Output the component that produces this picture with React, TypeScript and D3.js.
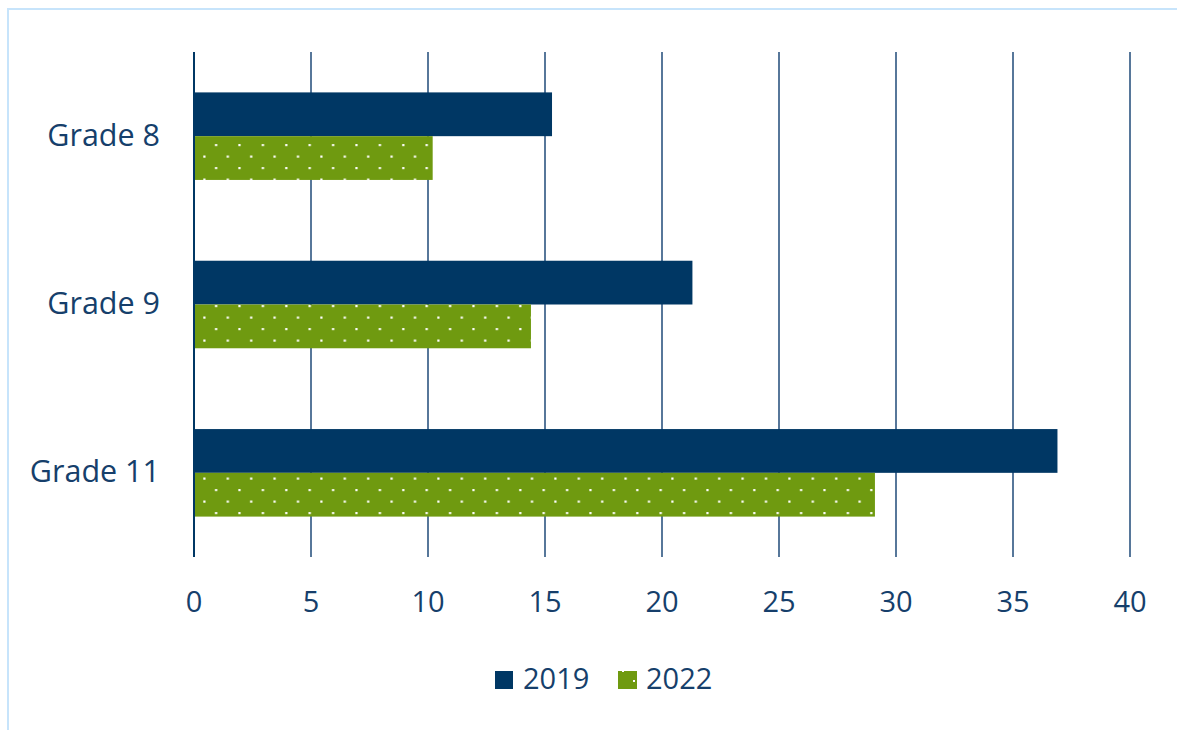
import React from "react";
import * as d3 from "d3";

const categories = ["Grade 8", "Grade 9", "Grade 11"];
const seriesNames = ["2019", "2022"];
const values2019 = [15.3, 21.3, 36.9];
const values2022 = [10.2, 14.4, 29.1];
const xTicks = [0, 5, 10, 15, 20, 25, 30, 35, 40];

const W = 1177;
const H = 730;
const NAVY = "#003764";
const GREEN = "#6f9a10";
const TEXT = "#163f6b";
const FONT = "'Open Sans', 'DejaVu Sans', sans-serif";

export default function App() {
  const margin = { left: 194, right: 1130, top: 52, bottom: 557 };
  const x = d3.scaleLinear().domain([0, 40]).range([margin.left, margin.right]);
  const y = d3
    .scaleBand<string>()
    .domain(categories)
    .range([margin.top, margin.bottom])
    .paddingInner(0.48)
    .paddingOuter(0.24);
  const inner = d3
    .scaleBand<string>()
    .domain(seriesNames)
    .range([0, y.bandwidth()]);

  const series = [
    { name: "2019", values: values2019, fill: NAVY },
    { name: "2022", values: values2022, fill: "url(#dots)" },
  ];

  return (
    <svg
      width={W}
      height={H}
      style={{ position: "absolute", left: 0, top: 0, background: "#fff" }}
    >
      <defs>
        <pattern
          id="dots"
          patternUnits="userSpaceOnUse"
          width={23.4}
          height={23}
          x={204}
          y={145}
        >
          <rect width={23.4} height={23} fill={GREEN} />
          <rect x={11} y={-1} width={2.2} height={2.2} fill="#fff" />
          <rect x={-0.7} y={10.5} width={2.2} height={2.2} fill="#fff" />
          <rect x={22.7} y={10.5} width={2.2} height={2.2} fill="#fff" />
          <rect x={11} y={22} width={2.2} height={2.2} fill="#fff" />
        </pattern>
        <pattern
          id="legdots"
          patternUnits="userSpaceOnUse"
          width={20}
          height={20}
          x={618}
          y={671}
        >
          <rect width={20} height={20} fill={GREEN} />
          <rect x={15} y={9} width={2} height={2} fill="#fff" />
          <rect x={4} y={-1} width={2} height={2} fill="#fff" />
        </pattern>
      </defs>
      <rect x={8} y={9} width={1180} height={730} fill="none" stroke="#c7e4fb" strokeWidth={2} />

      {xTicks.map((t) => (
        <line
          key={"g" + t}
          x1={x(t)}
          x2={x(t)}
          y1={margin.top}
          y2={margin.bottom}
          stroke={t === 0 ? NAVY : "#1f4a78"}
          strokeWidth={t === 0 ? 2 : 1.5}
        />
      ))}

      {series.map((s) =>
        categories.map((c, i) => (
          <rect
            key={s.name + c}
            x={x(0)}
            y={(y(c) as number) + (inner(s.name) as number)}
            width={x(s.values[i]) - x(0)}
            height={inner.bandwidth()}
            fill={s.fill}
          />
        ))
      )}
      <line x1={x(0)} x2={x(0)} y1={margin.top} y2={margin.bottom} stroke={NAVY} strokeWidth={2} />

      {categories.map((c) => (
        <text
          key={c}
          x={160}
          y={(y(c) as number) + y.bandwidth() / 2 + 9.5}
          textAnchor="end"
          fontFamily={FONT}
          fontSize={30.5}
          fill={TEXT}
        >
          {c}
        </text>
      ))}

      {xTicks.map((t) => (
        <text
          key={"t" + t}
          x={x(t)}
          y={612}
          textAnchor="middle"
          fontFamily={FONT}
          fontSize={29}
          fill={TEXT}
        >
          {t}
        </text>
      ))}

      <rect x={495} y={671} width={18} height={18} fill={NAVY} />
      <text x={523} y={689} fontFamily={FONT} fontSize={29} fill={TEXT}>
        {seriesNames[0]}
      </text>
      <rect x={618} y={671} width={19} height={18} fill="url(#legdots)" />
      <text x={646} y={689} fontFamily={FONT} fontSize={29} fill={TEXT}>
        {seriesNames[1]}
      </text>
    </svg>
  );
}
